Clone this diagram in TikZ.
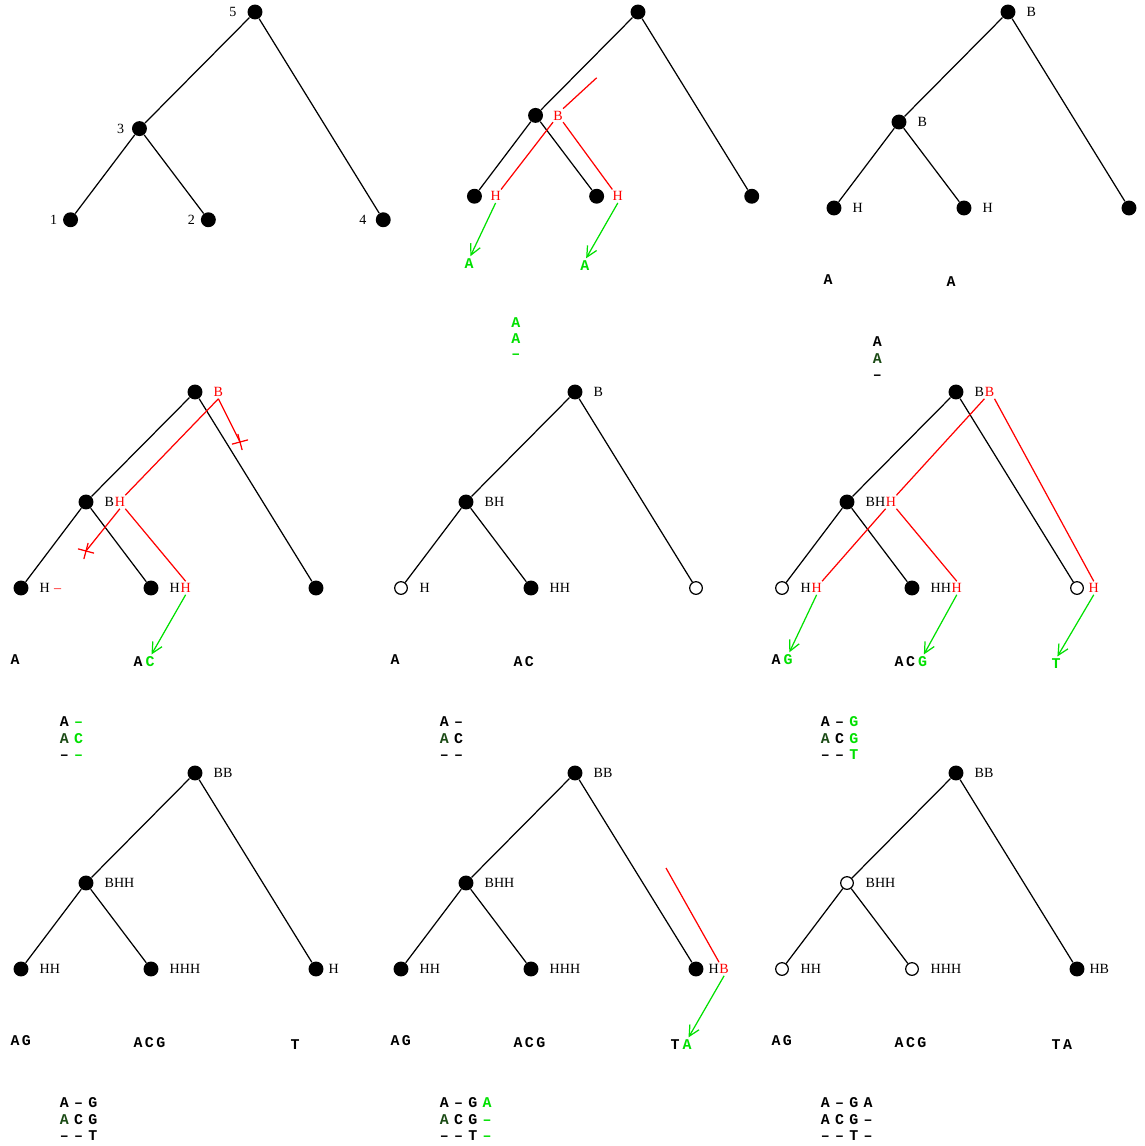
\documentclass[tikz,border=0pt]{standalone}
\usepackage{fontspec}
\setmainfont{Liberation Serif}
\setmonofont{Liberation Mono}
\usetikzlibrary{arrows.meta, positioning, shapes.misc}
\definecolor{MutRed}{HTML}{FF0000}
\definecolor{MutGreen}{HTML}{00E000}
\definecolor{AlnGreen}{HTML}{1A4A14}
\newcommand{\sqc}[1]{\makebox[6.5pt]{#1}}
\newcommand{\alc}[1]{\makebox[8.1pt]{#1}}
\newcommand{\gap}{\textendash}
% tree skeleton: prefix, then fills of root, inner node, leaves a, b, c
\newcommand{\drawtree}[6]{%
  \node[#2] (#1r) at (0,0) {};
  \node[#3] (#1i) at (-109,110) {};
  \node[#4] (#1a) at (-174,196) {};
  \node[#5] (#1b) at (-44,196) {};
  \node[#6] (#1c) at (121,196) {};
  \draw[branch] (#1r) -- (#1i) -- (#1a) (#1i) -- (#1b) (#1r) -- (#1c);
}
% alignment rows below a tree
\newcommand{\alnrows}[4]{%
  \node[seq, anchor=west] (#1row1) at (-138,330) {#2};
  \node[seq, anchor=west] (#1row2) at (-138,347) {#3};
  \node[seq, anchor=west] (#1row3) at (-138,363) {#4};
}

\begin{document}
\begin{tikzpicture}[x=0.02cm, y=-0.02cm,
   full/.style={circle, fill=black, inner sep=0pt, minimum size=8.5pt},
   hollow/.style={circle, draw=black, fill=white, line width=0.7pt, inner sep=0pt, minimum size=7.2pt},
   branch/.style={line width=0.7pt},
   lbl/.style={font=\footnotesize, inner xsep=0pt, inner ysep=1pt, text height=5.3pt, text depth=0pt},
   redlbl/.style={lbl, text=MutRed},
   redpath/.style={MutRed, line width=0.7pt},
   mutarrow/.style={MutGreen, line width=0.7pt, shorten >=1.5pt, -{Straight Barb[length=6pt,width=6pt]}},
   seq/.style={font=\fontsize{8.5}{10}\selectfont\ttfamily\bfseries, inner sep=0pt, text height=5.6pt, text depth=0pt},
   newseq/.style={seq, text=MutGreen},
   cutmark/.style={cross out, draw=MutRed, line width=0.7pt, inner sep=0pt, minimum size=6pt}]
   \useasboundingbox (0,0) rectangle (1144,1146);

   % Tree 1: node numbers
   \begin{scope}[shift={(255,12)}, scale=1.06]
      \drawtree{ta}{full}{full}{full}{full}{full}
      \node[lbl, left=6pt of tar] (ta5) {5};
      \node[lbl, left=4pt of tai] (ta3) {3};
      \node[lbl, left=3pt of taa] (ta1) {1};
      \node[lbl, left=3pt of tab] (ta2) {2};
      \node[lbl, left=5pt of tac] (ta4) {4};
   \end{scope}

   % Tree 2: first column
   \begin{scope}[shift={(638,12)}, scale=0.94]
      \drawtree{tb}{full}{full}{full}{full}{full}
      \node[redlbl, right=5.5pt of tbi] (tbB) {B};
      \node[redlbl, right=4.5pt of tba] (tbHa) {H};
      \node[redlbl, right=4.5pt of tbb] (tbHb) {H};
      \coordinate (tbtop) at (-44,70);
      \draw[redpath] (tbtop) -- (tbB.north east);
      \draw[redpath] (tbB.south west) -- (tbHa.north east);
      \draw[redpath] (tbB.south east) -- (tbHb.north west);
      \node[newseq, anchor=west] (tbsa) at (-186,268) {\sqc{A}};
      \node[newseq, anchor=west] (tbsb) at (-63,270) {\sqc{A}};
      \draw[mutarrow] (tbHa.south) -- (tbsa.north);
      \draw[mutarrow] (tbHb.south) -- (tbsb.north);
      \alnrows{tb}{\color{MutGreen}\alc{A}}{\color{MutGreen}\alc{A}}{\color{MutGreen}\alc{\gap}}
   \end{scope}

   % Tree 3
   \begin{scope}[shift={(1008,12)}]
      \drawtree{tc}{full}{full}{full}{full}{full}
      \node[lbl, right=6pt of tcr] (tcrl) {B};
      \node[lbl, right=6pt of tci] (tcil) {B};
      \node[lbl, right=6pt of tca] (tcal) {H};
      \node[lbl, right=6pt of tcb] (tcbl) {H};
      \node[seq, anchor=west] (tcsa) at (-186,268) {\sqc{A}};
      \node[seq, anchor=west] (tcsb) at (-63,270) {\sqc{A}};
      \alnrows{tc}{\alc{A}}{\alc{\color{AlnGreen}A}}{\alc{\gap}}
   \end{scope}

   % Tree 4: second column, with cut branches
   \begin{scope}[shift={(195,392)}]
      \drawtree{td}{full}{full}{full}{full}{full}
      \node[redlbl, right=6pt of tdr] (tdB) {B};
      \node[lbl, right=6pt of tdi] (tdil) {B};
      \node[redlbl, right=0pt of tdil] (tdiH) {H};
      \node[lbl, right=6pt of tda] (tdal) {H};
      \node[redlbl, right=2pt of tdal] (tdad) {\textendash};
      \node[lbl, right=6pt of tdb] (tdbl) {H};
      \node[redlbl, right=0pt of tdbl] (tdbH) {H};
      \node[cutmark, rotate=-30] (tdx1) at (45,50) {};
      \node[cutmark, rotate=30] (tdx2) at (-109,159) {};
      \draw[redpath] (tdB.south) -- (tdx1.center);
      \draw[redpath] (tdB.south) -- (tdiH.north east);
      \draw[redpath] (tdiH.south) -- (tdx2.center);
      \draw[redpath] (tdiH.south east) -- (tdbH.north);
      \node[seq, anchor=west] (tdsa) at (-186,268) {\sqc{A}};
      \node[seq, anchor=west] (tdsb) at (-63,270) {\sqc{A}};
      \node[newseq, right=0pt of tdsb] (tdsbn) {\sqc{C}};
      \draw[mutarrow] (tdbH.south) -- (tdsbn.north);
      \alnrows{td}{\alc{A}\alc{\color{MutGreen}\gap}}{\alc{\color{AlnGreen}A}\alc{\color{MutGreen}C}}{\alc{\gap}\alc{\color{MutGreen}\gap}}
   \end{scope}

   % Tree 5
   \begin{scope}[shift={(575,392)}]
      \drawtree{te}{full}{full}{hollow}{full}{hollow}
      \node[lbl, right=6pt of ter] (terl) {B};
      \node[lbl, right=6pt of tei] (teil) {BH};
      \node[lbl, right=6.5pt of tea] (teal) {H};
      \node[lbl, right=6pt of teb] (tebl) {HH};
      \node[seq, anchor=west] (tesa) at (-186,268) {\sqc{A}};
      \node[seq, anchor=west] (tesb) at (-63,270) {\sqc{A}\sqc{C}};
      \alnrows{te}{\alc{A}\alc{\gap}}{\alc{\color{AlnGreen}A}\alc{C}}{\alc{\gap}\alc{\gap}}
   \end{scope}

   % Tree 6: third column
   \begin{scope}[shift={(956,392)}]
      \drawtree{tf}{full}{full}{hollow}{full}{hollow}
      \node[lbl, right=6pt of tfr] (tfrl) {B};
      \node[redlbl, right=0pt of tfrl] (tfrB) {B};
      \node[lbl, right=6pt of tfi] (tfil) {BH};
      \node[redlbl, right=0pt of tfil] (tfiH) {H};
      \node[lbl, right=6.5pt of tfa] (tfal) {H};
      \node[redlbl, right=0pt of tfal] (tfaH) {H};
      \node[lbl, right=6pt of tfb] (tfbl) {HH};
      \node[redlbl, right=0pt of tfbl] (tfbH) {H};
      \node[redlbl, right=2.5pt of tfc] (tfcH) {H};
      \draw[redpath] (tfrB.south west) -- (tfiH.north east);
      \draw[redpath] (tfrB.south east) -- (tfcH.north);
      \draw[redpath] (tfiH.south west) -- (tfaH.north east);
      \draw[redpath] (tfiH.south east) -- (tfbH.north);
      \node[seq, anchor=west] (tfsa) at (-186,268) {\sqc{A}};
      \node[newseq, right=0pt of tfsa] (tfsan) {\sqc{G}};
      \node[seq, anchor=west] (tfsb) at (-63,270) {\sqc{A}\sqc{C}};
      \node[newseq, right=0pt of tfsb] (tfsbn) {\sqc{G}};
      \node[newseq, anchor=west] (tfsc) at (94,272) {\sqc{T}};
      \draw[mutarrow] (tfaH.south) -- (tfsan.north);
      \draw[mutarrow] (tfbH.south) -- (tfsbn.north);
      \draw[mutarrow] (tfcH.south) -- (tfsc.north);
      \alnrows{tf}{\alc{A}\alc{\gap}\alc{\color{MutGreen}G}}{\alc{\color{AlnGreen}A}\alc{C}\alc{\color{MutGreen}G}}{\alc{\gap}\alc{\gap}\alc{\color{MutGreen}T}}
   \end{scope}

   % Tree 7
   \begin{scope}[shift={(195,773)}]
      \drawtree{tg}{full}{full}{full}{full}{full}
      \node[lbl, right=6pt of tgr] (tgrl) {BB};
      \node[lbl, right=6pt of tgi] (tgil) {BHH};
      \node[lbl, right=6pt of tga] (tgal) {HH};
      \node[lbl, right=6pt of tgb] (tgbl) {HHH};
      \node[lbl, right=2.5pt of tgc] (tgcl) {H};
      \node[seq, anchor=west] (tgsa) at (-186,268) {\sqc{A}\sqc{G}};
      \node[seq, anchor=west] (tgsb) at (-63,270) {\sqc{A}\sqc{C}\sqc{G}};
      \node[seq, anchor=west] (tgsc) at (94,272) {\sqc{T}};
      \alnrows{tg}{\alc{A}\alc{\gap}\alc{G}}{\alc{\color{AlnGreen}A}\alc{C}\alc{G}}{\alc{\gap}\alc{\gap}\alc{T}}
   \end{scope}

   % Tree 8
   \begin{scope}[shift={(575,773)}]
      \drawtree{th}{full}{full}{full}{full}{full}
      \node[lbl, right=6pt of thr] (thrl) {BB};
      \node[lbl, right=6pt of thi] (thil) {BHH};
      \node[lbl, right=6pt of tha] (thal) {HH};
      \node[lbl, right=6pt of thb] (thbl) {HHH};
      \node[lbl, right=2.5pt of thc] (thcl) {H};
      \node[redlbl, right=0pt of thcl] (thcB) {B};
      \coordinate (thtop) at (91,95);
      \draw[redpath] (thtop) -- (thcB.north west);
      \node[seq, anchor=west] (thsa) at (-186,268) {\sqc{A}\sqc{G}};
      \node[seq, anchor=west] (thsb) at (-63,270) {\sqc{A}\sqc{C}\sqc{G}};
      \node[seq, anchor=west] (thsc) at (94,272) {\sqc{T}};
      \node[newseq, right=0pt of thsc] (thscn) {\sqc{A}};
      \draw[mutarrow] (thcB.south) -- (thscn.north);
      \alnrows{th}{\alc{A}\alc{\gap}\alc{G}\alc{\color{MutGreen}A}}{\alc{\color{AlnGreen}A}\alc{C}\alc{G}\alc{\color{MutGreen}\gap}}{\alc{\gap}\alc{\gap}\alc{T}\alc{\color{MutGreen}\gap}}
   \end{scope}

   % Tree 9
   \begin{scope}[shift={(956,773)}]
      \drawtree{ti}{full}{hollow}{hollow}{hollow}{full}
      \node[lbl, right=6pt of tir] (tirl) {BB};
      \node[lbl, right=6.5pt of tii] (tiil) {BHH};
      \node[lbl, right=6.5pt of tia] (tial) {HH};
      \node[lbl, right=6.5pt of tib] (tibl) {HHH};
      \node[lbl, right=2.5pt of tic] (ticl) {HB};
      \node[seq, anchor=west] (tisa) at (-186,268) {\sqc{A}\sqc{G}};
      \node[seq, anchor=west] (tisb) at (-63,270) {\sqc{A}\sqc{C}\sqc{G}};
      \node[seq, anchor=west] (tisc) at (94,272) {\sqc{T}\sqc{A}};
      \alnrows{ti}{\alc{A}\alc{\gap}\alc{G}\alc{A}}{\alc{A}\alc{C}\alc{G}\alc{\gap}}{\alc{\gap}\alc{\gap}\alc{T}\alc{\gap}}
   \end{scope}
\end{tikzpicture}
\end{document}
